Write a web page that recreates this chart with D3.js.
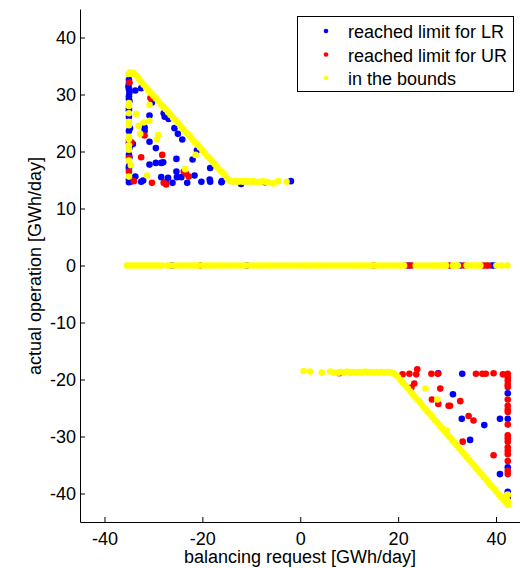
<!DOCTYPE html>
<html>
<head>
<meta charset="utf-8">
<script src="https://cdn.jsdelivr.net/npm/d3@7"></script>
<style>
  body { margin: 0; background: #fff; }
  svg { display: block; font-family: "Liberation Sans", Arial, sans-serif; }
</style>
</head>
<body>
<script>
// ---- data ----
var seriesNames = ["reached limit for LR", "reached limit for UR", "in the bounds"];
var seriesColors = ["#0000ff", "#ff0000", "#ffff00"];
var xTicks = [-40, -20, 0, 20, 40];
var yTicks = [-40, -30, -20, -10, 0, 10, 20, 30, 40];

// reached limit for LR
var lrPoints = [
  [-35.0,32.6],[-35.0,32.0],[-35.1,31.4],[-35.0,30.9],[-34.9,30.3],[-35.0,29.7],[-35.0,29.2],[-34.9,28.8],
  [-35.0,27.6],[-35.0,27.2],[-35.0,26.1],[-34.8,24.1],[-35.0,23.6],[-35.0,21.5],[-34.9,20.6],[-35.0,19.4],
  [-34.9,19.0],[-35.0,17.4],[-35.0,17.0],[-35.0,15.1],[-35.0,14.6],[-34.7,14.7],[-34.2,21.3],[-33.7,15.6],
  [-33.7,30.7],[-32.5,31.1],[-30.3,28.6],[-30.8,26.3],[-31.8,24.2],[-31.8,23.6],[-30.8,21.7],[-29.5,20.6],
  [-30.8,17.7],[-29.5,18.0],[-28.4,18.0],[-28.0,18.1],[-25.3,18.7],[-32.5,14.7],[-32.1,14.9],[-28.4,15.5],
  [-27.5,14.6],[-27.0,15.4],[-26.1,14.5],[-25.3,16.5],[-25.2,15.5],[-24.3,15.5],[-23.1,14.5],[-21.6,15.8],
  [-22.0,18.6],[-21.1,20.2],[-20.2,14.7],[-18.4,17.1],[-18.5,15.1],[-18.4,14.7],[-16.1,14.6],[-16.0,14.8],
  [-12.1,14.3],[-7.2,14.6],[-1.9,14.8],[-27.9,26.7],[-27.7,26.1],[-26.9,25.7],[-25.7,24.1],[-25.0,23.1],
  [-24.1,22.1],
  [-26.2,0],[-10.9,0],[22.3,0],[32.7,0],[39.1,0],[39.6,0],
  [28.2,-18.9],[33.1,-19.0],[31.2,-22.6],[33.0,-26.9],[37.6,-28.0],[40.8,-26.9],[34.7,-30.6],[40.8,-36.6],
  [42.4,-22.4],[42.4,-26.9],[42.4,-35.4],[42.4,-39.7],[42.4,-40.8]
];

// reached limit for UR
var urPoints = [
  [-34.9,32.1],[-35.0,22.0],[-34.5,21.6],[-35.0,18.9],[-35.0,16.5],[-34.0,14.8],[-30.6,29.4],[-31.8,22.8],
  [-32.5,19.0],[-28.2,19.4],[-30.3,14.5],[-27.9,14.5],[-27.4,14.2],[-23.8,16.5],[-23.3,16.1],[-22.8,15.6],
  [-20.4,0],[15.0,0],[21.8,0],[22.8,0],[30.5,0],[33.4,0],[37.4,0],[38.0,0],[38.4,0],
  [8.0,-18.9],[20.9,-19.1],[22.3,-19.0],[23.7,-19.1],[23.9,-18.2],[26.8,-19.0],[28.1,-19.0],[35.9,-19.0],
  [37.2,-19.0],[37.9,-19.0],[39.5,-18.9],[41.4,-19.1],
  [42.4,-19.0],[42.4,-19.6],[42.4,-20.2],[42.4,-20.9],[42.4,-21.3],[42.4,-23.5],[42.4,-24.6],[42.4,-25.3],
  [42.4,-25.7],[42.4,-27.9],[42.4,-29.8],[42.4,-30.3],[42.4,-30.9],[42.4,-31.9],[42.4,-32.5],[42.4,-33.1],
  [42.4,-34.3],[42.4,-36.0],[42.4,-36.6],[42.4,-40.3],
  [23.3,-20.7],[22.7,-21.4],[28.6,-21.6],[26.9,-23.5],[28.2,-24.3],[30.3,-24.6],[30.6,-24.6],[32.7,-23.8],
  [34.4,-26.4],[35.4,-27.2],[33.2,-30.9],[39.5,-33.3]
];

// in the bounds
var boundsScatter = [
  [-30.8,28.2],[-33.5,26.6],[-30.8,25.4],[-32.0,25.1],[-33.0,24.5],[-32.7,23.1],[-29.0,22.9],[-29.3,22.1],
  [-31.3,15.8],[-23.5,16.9],[-21.4,19.4],
  [-35.0,28.5],[-35.0,28.0],[-35.0,26.7],[-35.0,25.2],[-35.0,24.6],[-35.0,22.6],[-35.0,22.2],[-35.0,21.1],
  [-35.0,20.3],[-35.0,18.4],[-34.6,17.6],[-35.0,15.6],
  [25.6,-21.6],[28.0,-23.5],[42.4,-40.2]
];
var boundsUpper = [
  [-35.1,33.6],[-34.8,33.9],[-34.5,33.7],[-34.1,33.8],[-33.7,33.5],[-33.3,33.2],[-32.9,32.7],[-32.5,32.2],
  [-32.0,31.7],[-31.5,31.2],[-31.0,30.7],[-30.5,30.2],[-30.0,29.8],[-29.5,29.3],[-29.0,28.8],[-28.5,28.3],
  [-28.0,27.9],[-27.5,27.4],[-27.0,26.9],[-26.5,26.4],[-26.0,25.9],[-25.5,25.5],[-25.0,25.0],[-24.5,24.5],
  [-24.0,24.0],[-23.5,23.5],[-23.0,23.1],[-22.5,22.6],[-22.0,22.1],[-21.5,21.6],[-21.0,21.2],[-20.5,20.7],
  [-20.0,20.2],[-19.5,19.7],[-19.0,19.2],[-18.5,18.8],[-18.0,18.3],[-17.5,17.8],[-17.0,17.3],[-16.5,16.8],
  [-16.0,16.4],[-15.5,15.9],[-15.0,15.4],[-14.6,15.0],
  [-14.2,14.8],[-13.7,14.7],[-13.2,14.8],[-12.7,14.7],[-12.2,14.8],[-11.7,14.7],[-11.2,14.8],[-10.7,14.8],
  [-10.2,14.7],[-9.7,14.8],[-9.2,14.7],[-8.7,14.6],[-8.2,14.7],[-7.7,14.8],[-7.2,14.7],[-6.6,14.6],
  [-5.5,14.4],[-4.5,14.8],[-2.8,14.7]
];
var boundsZeroX = [
  -35.4,-34.8,-34.2,-33.6,-33.0,-32.4,-31.8,-31.2,-30.6,-30.0,-29.4,-28.8,-28.2,
  -27.1,-26.4,-25.7,-25.0,-24.3,-23.6,-22.9,-22.2,-21.5,-20.8,-20.1,-19.4,-18.7,-18.0,-17.3,-16.6,-15.9,
  -15.2,-14.5,-13.8,-13.1,-12.4,-11.7,-11.0,-10.3,-9.6,-8.9,-8.2,-7.5,-6.8,-6.1,-5.4,-4.7,-4.0,-3.3,-2.6,
  -1.9,-1.2,-0.5,0.2,0.9,1.6,2.3,3.0,3.7,4.4,5.1,5.8,6.5,7.2,7.9,8.6,9.3,10.0,10.7,11.4,12.1,12.8,13.5,
  14.2,14.9,15.6,16.3,17.0,17.7,18.4,19.1,19.8,20.5,21.2,
  23.6,24.3,25.0,25.7,26.4,27.1,27.5,
  28.2,28.8,29.4,29.8,31.2,31.8,32.2,
  34.0,34.6,35.2,35.8,36.2,36.8,40.1,41.2,42.3
];
var boundsLower = [
  [0.7,-18.5],[2.0,-18.6],[4.4,-18.8],[6.1,-18.6],[6.9,-18.8],[7.8,-18.8],[8.4,-18.7],[9.0,-18.8],
  [9.6,-18.6],[10.2,-18.8],[10.8,-18.7],[11.4,-18.8],[12.0,-18.7],[12.6,-18.8],[13.2,-18.6],[13.8,-18.8],
  [14.4,-18.7],[15.0,-18.8],[15.6,-18.7],[16.2,-18.8],[16.8,-18.7],[17.4,-18.8],[18.0,-18.7],[18.6,-18.8],
  [19.1,-18.9],
  [19.5,-19.2],[20.0,-19.6],[20.5,-20.1],[21.0,-20.6],[21.5,-21.1],[22.0,-21.6],[22.5,-22.1],[23.0,-22.6],
  [23.5,-23.1],[24.0,-23.6],[24.5,-24.1],[25.0,-24.6],[25.5,-25.1],[26.0,-25.6],[26.5,-26.1],[27.0,-26.6],
  [27.5,-27.1],[28.0,-27.6],[28.5,-28.1],[29.0,-28.6],[29.5,-29.1],[29.9,-29.0],[30.0,-29.6],[30.5,-30.1],
  [31.0,-30.6],[31.5,-31.1],[32.0,-31.6],[32.5,-32.1],[33.0,-32.6],[33.5,-33.1],[34.0,-33.6],[34.5,-34.1],
  [35.0,-34.6],[35.5,-35.1],[36.0,-35.6],[36.5,-36.1],[37.0,-36.6],[37.5,-37.1],[38.0,-37.6],[38.5,-38.1],
  [39.0,-38.6],[39.5,-39.1],[40.0,-39.6],[40.5,-40.1],[41.0,-40.6],[41.5,-40.6],[41.5,-41.1],[42.0,-41.6],
  [42.4,-41.3],[42.4,-42.0]
];

// ---- chart ----
var width = 520, height = 568;
var font_size = 18;
var dot_r = 3.3;

var x = d3.scaleLinear().domain([-45, 45]).range([80, 520.5]);
var y = d3.scaleLinear().domain([-45, 45]).range([522, 9]);

var svg = d3.select("body").append("svg")
    .attr("width", width)
    .attr("height", height);

var boundsPoints = boundsScatter
    .concat(boundsUpper)
    .concat(boundsZeroX.map(v => [v, 0]))
    .concat(boundsLower);
var series = [lrPoints, urPoints, boundsPoints];

series.forEach(function(points, i) {
    svg.append("g")
        .selectAll("circle")
        .data(points)
        .join("circle")
        .attr("cx", d => x(d[0]))
        .attr("cy", d => y(d[1]))
        .attr("r", dot_r)
        .attr("fill", seriesColors[i]);
});

// axes, ticks pointing inward like matlab
var xAxis = svg.append("g")
    .attr("transform", `translate(0,${y(-45)})`)
    .call(d3.axisBottom(x).tickValues(xTicks).tickFormat(d => String(d))
        .tickSizeInner(-5).tickSizeOuter(0).tickPadding(10));
var yAxis = svg.append("g")
    .attr("transform", `translate(${x(-45)},0)`)
    .call(d3.axisLeft(y).tickValues(yTicks).tickFormat(d => String(d))
        .tickSizeInner(-5).tickSizeOuter(0).tickPadding(4));

[xAxis, yAxis].forEach(function(g) {
    g.attr("font-size", font_size).attr("font-family", null);
    g.selectAll("text").attr("fill", "#000");
    g.selectAll("line, path").attr("stroke", "#000");
});

svg.append("text")
    .attr("x", 300)
    .attr("y", 563)
    .attr("text-anchor", "middle")
    .attr("font-size", font_size)
    .text("balancing request [GWh/day]");

svg.append("text")
    .attr("transform", "translate(41,266) rotate(-90)")
    .attr("text-anchor", "middle")
    .attr("font-size", font_size)
    .text("actual operation [GWh/day]");

// legend
var legend = svg.append("g");
legend.append("rect")
    .attr("x", 297.5).attr("y", 16.5)
    .attr("width", 216).attr("height", 75)
    .attr("fill", "#fff")
    .attr("stroke", "#000");
var rowY = [31, 54.5, 78];
seriesNames.forEach(function(name, i) {
    legend.append("circle")
        .attr("cx", 326).attr("cy", rowY[i])
        .attr("r", 2.3)
        .attr("fill", seriesColors[i]);
    legend.append("text")
        .attr("x", 348).attr("y", rowY[i] + 7)
        .attr("font-size", font_size)
        .text(name);
});
</script>
</body>
</html>
